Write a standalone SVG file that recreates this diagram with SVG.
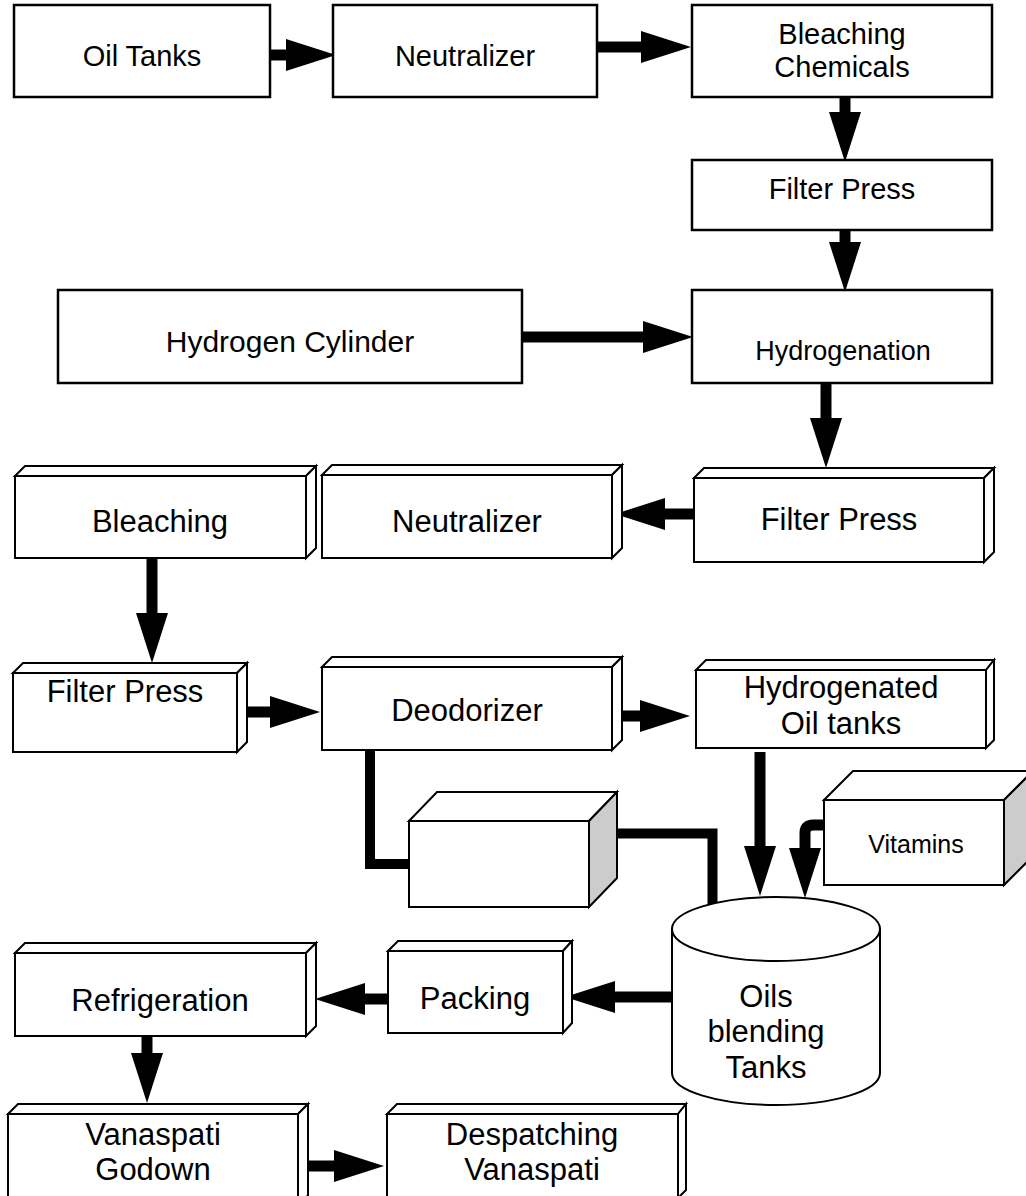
<svg xmlns="http://www.w3.org/2000/svg" width="1026" height="1196" viewBox="0 0 1026 1196">
<style>
  .box{fill:#fff;stroke:#000;stroke-width:2.5}
  .b3{fill:#fff;stroke:#000;stroke-width:2;stroke-linejoin:miter}
  .side{fill:#cccccc;stroke:#000;stroke-width:2}
  text{font-family:"Liberation Sans",Arial,Helvetica,sans-serif;fill:#000;text-anchor:middle}
  .t29{font-size:29px}
  .t31{font-size:31px}
  .t27{font-size:27px}
  .t25{font-size:25px}
  .t30{font-size:30px}
  .arr{fill:none;stroke:#000;stroke-width:11;marker-end:url(#ah)}
  .pipe{fill:none;stroke:#000;stroke-width:10}
</style>
<defs>
  <marker id="ah" markerUnits="userSpaceOnUse" markerWidth="50" markerHeight="32" refX="0" refY="16" orient="auto" overflow="visible">
    <path d="M0,0 L50,16 L0,32 Z" fill="#000"/>
  </marker>
</defs>
<rect width="1026" height="1196" fill="#fff"/>

<g id="connectors">
  <path class="arr" d="M269,55 H286"/>
  <path class="arr" d="M596,47 H641"/>
  <path class="arr" d="M845,96 V112"/>
  <path class="arr" d="M845,229 V242"/>
  <path class="arr" d="M522,337 H643"/>
  <path class="arr" d="M826,382 V418"/>
  <path class="arr" d="M694,514 H665"/>
  <path class="arr" d="M152,557 V613"/>
  <path class="arr" d="M236,712 H270"/>
  <path class="arr" d="M619,716 H640"/>
  <path class="arr" d="M760,752 V846"/>
  <path class="arr" d="M824,825 H813 Q805,825 805,833 V848" stroke-linejoin="round"/>
  <path class="arr" d="M672,997 H615"/>
  <path class="arr" d="M387,999 H365"/>
  <path class="arr" d="M147,1036 V1053"/>
  <path class="arr" d="M298,1166 H334"/>
  <path class="pipe" d="M370,750 V864 H409"/>
  <path class="pipe" d="M617,833.5 H712.5 V906" stroke-width="11"/>
</g>

<g id="oil-tanks">
  <rect class="box" x="14" y="5" width="256" height="92"/>
  <text class="t29" x="142" y="66">Oil Tanks</text>
</g>
<g id="neutralizer-1">
  <rect class="box" x="333" y="5" width="264" height="92"/>
  <text class="t29" x="465" y="66">Neutralizer</text>
</g>
<g id="bleaching-chemicals">
  <rect class="box" x="692" y="5" width="300" height="92"/>
  <text class="t29" x="842" y="44">Bleaching</text>
  <text class="t29" x="842" y="77">Chemicals</text>
</g>
<g id="filter-press-1">
  <rect class="box" x="692" y="160" width="300" height="70"/>
  <text class="t29" x="842" y="199">Filter Press</text>
</g>
<g id="hydrogen-cylinder">
  <rect class="box" x="58" y="290" width="464" height="93"/>
  <text class="t30" x="290" y="352">Hydrogen Cylinder</text>
</g>
<g id="hydrogenation">
  <rect class="box" x="692" y="290" width="300" height="93"/>
  <text class="t27" x="843" y="360">Hydrogenation</text>
</g>

<g id="filter-press-2">
  <path class="b3" d="M694,478 L704,468 H994 L984,478 Z"/>
  <path class="b3" d="M984,478 L994,468 V552 L984,562 Z"/>
  <rect class="b3" x="694" y="478" width="290" height="84"/>
  <text class="t31" x="839" y="530">Filter Press</text>
</g>
<g id="neutralizer-2">
  <path class="b3" d="M322,475 L332,465 H622 L612,475 Z"/>
  <path class="b3" d="M612,475 L622,465 V548 L612,558 Z"/>
  <rect class="b3" x="322" y="475" width="290" height="83"/>
  <text class="t31" x="467" y="532">Neutralizer</text>
</g>
<g id="bleaching">
  <path class="b3" d="M15,476 L25,466 H316 L306,476 Z"/>
  <path class="b3" d="M306,476 L316,466 V548 L306,558 Z"/>
  <rect class="b3" x="15" y="476" width="291" height="82"/>
  <text class="t31" x="160" y="532">Bleaching</text>
</g>
<g id="filter-press-3">
  <path class="b3" d="M13,673 L23,663 H247 L237,673 Z"/>
  <path class="b3" d="M237,673 L247,663 V742 L237,752 Z"/>
  <rect class="b3" x="13" y="673" width="224" height="79"/>
  <text class="t31" x="125" y="702">Filter Press</text>
</g>
<g id="deodorizer">
  <path class="b3" d="M322,667 L332,657 H622 L612,667 Z"/>
  <path class="b3" d="M612,667 L622,657 V740 L612,750 Z"/>
  <rect class="b3" x="322" y="667" width="290" height="83"/>
  <text class="t31" x="467" y="721">Deodorizer</text>
</g>
<g id="hydrogenated-oil-tanks">
  <path class="b3" d="M696,670 L706,660 H994 L986,670 Z"/>
  <path class="b3" d="M986,670 L994,660 V740 L986,748 Z"/>
  <rect class="b3" x="696" y="670" width="290" height="78"/>
  <text class="t31" x="841" y="698">Hydrogenated</text>
  <text class="t31" x="841" y="734">Oil tanks</text>
</g>

<g id="unlabelled-box">
  <path class="b3" d="M409,821 L437,792 H617 L589,821 Z"/>
  <path class="side" d="M589,821 L617,792 V878 L589,907 Z"/>
  <rect class="b3" x="409" y="821" width="180" height="86"/>
</g>
<g id="vitamins">
  <path class="b3" d="M824,800 L853,771 H1033 L1004,800 Z"/>
  <path class="side" d="M1004,800 L1033,771 V856 L1004,885 Z"/>
  <rect class="b3" x="824" y="800" width="180" height="85"/>
  <text class="t25" x="916" y="853">Vitamins</text>
</g>
<g id="oils-blending-tanks">
  <path class="b3" d="M672,929 V1073 A104,32 0 0 0 880,1073 V929 Z"/>
  <ellipse class="b3" cx="776" cy="929" rx="104" ry="32"/>
  <text class="t31" x="766" y="1007">Oils</text>
  <text class="t31" x="766" y="1042">blending</text>
  <text class="t31" x="766" y="1078">Tanks</text>
</g>
<g id="packing">
  <path class="b3" d="M388,951 L398,941 H572 L563,951 Z"/>
  <path class="b3" d="M563,951 L572,941 V1023 L563,1033 Z"/>
  <rect class="b3" x="388" y="951" width="175" height="82"/>
  <text class="t31" x="475" y="1009">Packing</text>
</g>
<g id="refrigeration">
  <path class="b3" d="M15,953 L25,943 H316 L306,953 Z"/>
  <path class="b3" d="M306,953 L316,943 V1026 L306,1036 Z"/>
  <rect class="b3" x="15" y="953" width="291" height="83"/>
  <text class="t31" x="160" y="1011">Refrigeration</text>
</g>
<g id="vanaspati-godown">
  <path class="b3" d="M8,1114 L18,1104 H308 L298,1114 Z"/>
  <path class="b3" d="M298,1114 L308,1104 V1196 L298,1200 Z"/>
  <rect class="b3" x="8" y="1114" width="290" height="90"/>
  <text class="t31" x="153" y="1145">Vanaspati</text>
  <text class="t31" x="153" y="1180">Godown</text>
</g>
<g id="despatching-vanaspati">
  <path class="b3" d="M387,1114 L397,1104 H686 L678,1114 Z"/>
  <path class="b3" d="M678,1114 L686,1104 V1190 L678,1198 Z"/>
  <rect class="b3" x="387" y="1114" width="291" height="90"/>
  <text class="t31" x="532" y="1145">Despatching</text>
  <text class="t31" x="532" y="1180">Vanaspati</text>
</g>
</svg>
